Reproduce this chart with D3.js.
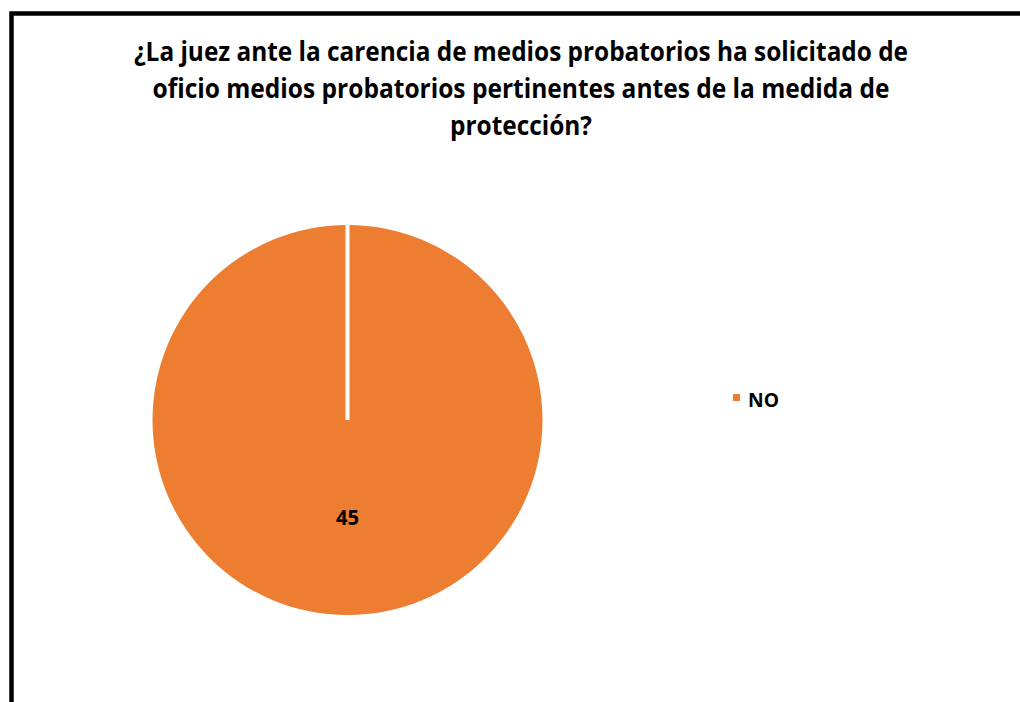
<!DOCTYPE html>
<html>
<head>
<meta charset="utf-8">
<script src="https://cdn.jsdelivr.net/npm/d3@7"></script>
<style>
  html, body { margin: 0; padding: 0; background: #fff; }
  svg { display: block; }
</style>
</head>
<body>
<div id="chart"></div>
<script>
/* ── data ─────────────────────────────────────────────── */
const titleLines = [
  '¿La juez ante la carencia de medios probatorios ha solicitado de',
  'oficio medios probatorios pertinentes antes de la medida de',
  'protección?'
];
const categories = ['NO'];
const values = [45];

/* ── layout ───────────────────────────────────────────── */
const W = 1020, H = 702;
const FONT = '"Open Sans", "Noto Sans", sans-serif';
const color = d3.scaleOrdinal().domain(categories).range(['#ED7D31']);

const svg = d3.select('#chart').append('svg')
  .attr('width', W).attr('height', H)
  .attr('viewBox', `0 0 ${W} ${H}`);

/* chart frame — runs off the right and bottom edges */
svg.append('rect')
  .attr('x', 11.5).attr('y', 13.5)
  .attr('width', W + 40).attr('height', H + 40)
  .attr('fill', '#fff').attr('stroke', '#000').attr('stroke-width', 4.5);

/* title */
const titleW = [774, 737, 142];
const titleY = [61, 98, 135];
titleLines.forEach((t, i) => {
  svg.append('text')
    .attr('x', 521).attr('y', titleY[i])
    .attr('text-anchor', 'middle')
    .attr('font-family', FONT).attr('font-weight', 700)
    .attr('font-size', 26)
    .attr('textLength', titleW[i]).attr('lengthAdjust', 'spacingAndGlyphs')
    .attr('fill', '#000').text(t);
});

/* pie */
const cx = 347.5, cy = 420, R = 195;
const pie = d3.pie().sort(null).value(d => d.value);
const arcs = pie(categories.map((c, i) => ({ key: c, value: values[i] })));
const arc = d3.arc().innerRadius(0).outerRadius(R);

const g = svg.append('g').attr('transform', `translate(${cx},${cy})`);

g.selectAll('path.slice')
  .data(arcs).join('path')
  .attr('class', 'slice')
  .attr('fill', d => color(d.data.key))
  .attr('d', arc);

/* white slice border from centre to each start angle */
g.selectAll('line.sep')
  .data(arcs).join('line')
  .attr('class', 'sep')
  .attr('x1', 0).attr('y1', 0)
  .attr('x2', d => Math.sin(d.startAngle) * R)
  .attr('y2', d => -Math.cos(d.startAngle) * R - 1)
  .attr('stroke', '#fff').attr('stroke-width', 4);

/* data labels */
const labelArc = d3.arc().innerRadius(0).outerRadius(R);
g.selectAll('text.val')
  .data(arcs).join('text')
  .attr('class', 'val')
  .attr('transform', d => {
    const [x, y] = labelArc.centroid(d);
    return `translate(${x},${y + 7})`;
  })
  .attr('text-anchor', 'middle')
  .attr('font-family', FONT).attr('font-weight', 700)
  .attr('font-size', 21)
  .attr('textLength', 23).attr('lengthAdjust', 'spacingAndGlyphs')
  .attr('fill', '#000')
  .text(d => d.data.value);

/* legend */
const leg = svg.append('g').attr('transform', 'translate(733,393)');
categories.forEach((c, i) => {
  const row = leg.append('g').attr('transform', `translate(0,${i * 26})`);
  row.append('rect').attr('width', 7).attr('height', 7).attr('y', 1)
    .attr('fill', color(c));
  row.append('text').attr('x', 15).attr('y', 13.5)
    .attr('font-family', FONT).attr('font-weight', 700)
    .attr('font-size', 19)
    .attr('textLength', 31).attr('lengthAdjust', 'spacingAndGlyphs')
    .attr('fill', '#000').text(c);
});
</script>
</body>
</html>
